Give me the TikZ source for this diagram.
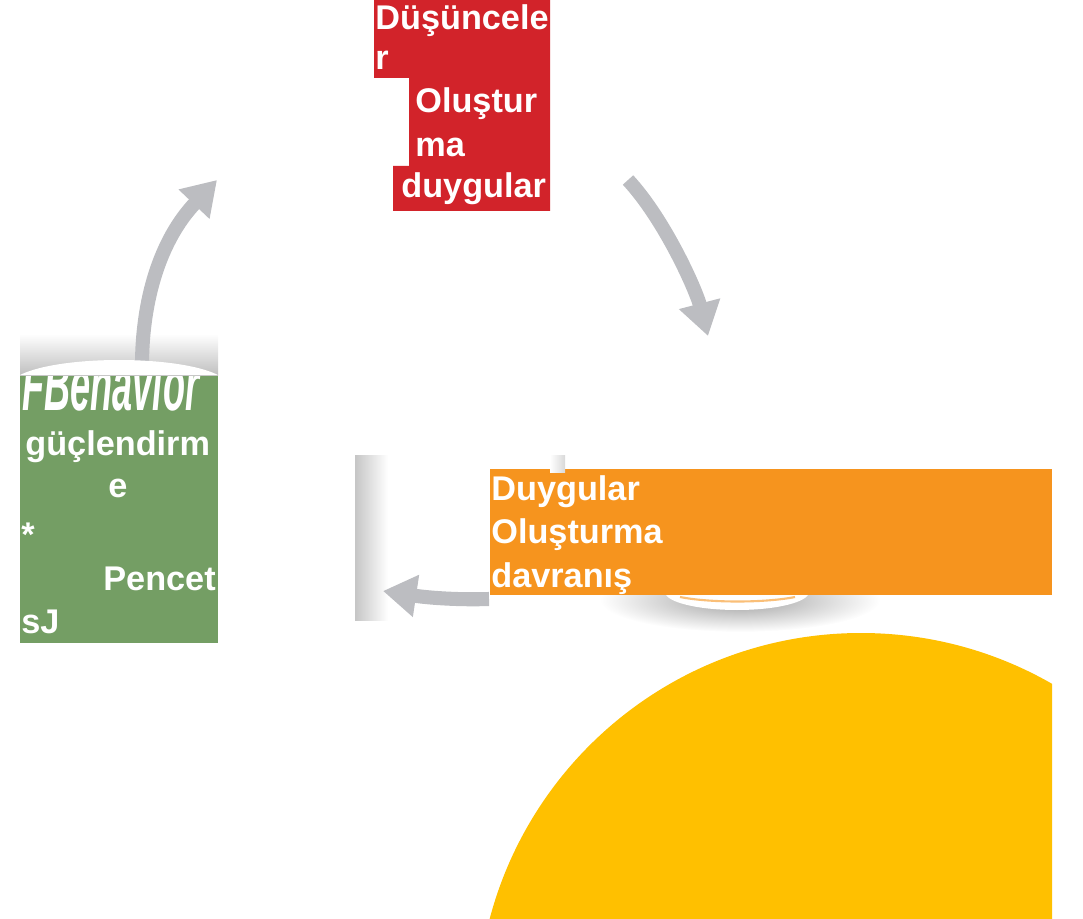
\documentclass[tikz,border=0pt]{standalone}
\usepackage{fontspec}
\setmainfont{Liberation Sans}
\usepackage{graphicx}
\usetikzlibrary{arrows.meta}

\definecolor{thoughtred}{RGB}{210,35,42}
\definecolor{feelorange}{RGB}{246,148,30}
\definecolor{actgreen}{RGB}{116,158,100}
\definecolor{sunyellow}{RGB}{255,192,0}
\definecolor{arrowgray}{RGB}{188,189,193}

\begin{document}
\begin{tikzpicture}[x=0.02cm, y=-0.02cm,
        label/.style={anchor=base west, inner sep=0pt, text=white, font=\bfseries\fontsize{19.5}{23}\selectfont},
        cyclearrow/.style={draw=arrowgray, line width=8pt, -{Triangle[length=19pt, width=23pt]}}
    ]
    \useasboundingbox (0,0) rectangle (1083,919);

    % big yellow disc, cut at the page edge
    \begin{scope}
        \clip (0,0) rectangle (1052,919);
        \fill[sunyellow] (861,1017) circle (384);
    \end{scope}

    % thoughts
    \fill[thoughtred] (374,0) -- (550,0) -- (550,211) -- (393,211) -- (393,166) -- (409,166) -- (409,78) -- (374,78) -- cycle;
    \node (thoughtsA) at (375,30) [label] {Düşüncele};
    \node (thoughtsB) at (375,70) [label] {r};
    \node (thoughtsC) at (415,113) [label] {Oluştur};
    \node (thoughtsD) at (415,157) [label] {ma};
    \node (thoughtsE) at (401,197) [label] {duygular};

    % shadow under the feelings disc
    \shade[inner color=gray!75, outer color=white] (740,600) ellipse (140 and 32);
    \fill[white] (737,592) ellipse (72 and 18);
    \draw[feelorange!60, line width=1.2pt] (680,597) .. controls (710,603) and (765,603) .. (795,597);

    % feelings
    \fill[feelorange] (490,469) rectangle (1052,595);
    \node (feelA) at (491,500) [label] {Duygular};
    \node (feelB) at (491,543) [label] {Oluşturma};
    \node (feelC) at (491,587) [label] {davranış};

    % inner panel edge
    \shade[left color=gray!45, right color=white] (355,455) rectangle (388,620);
    \shade[left color=white, right color=gray!30] (550,455) rectangle (565,472);

    % behavior
    \fill[actgreen] (20,375) rectangle (218,643);
    \begin{scope}
        \clip (20,375) rectangle (218,643);
        \node (actTitle) at (22,410) [anchor=base west, inner sep=0pt, text=white, font=\bfseries\itshape\fontsize{42}{42}\selectfont] {\scalebox{0.49}[1]{FBenavior}};
    \end{scope}
    \node (actA) at (25,455) [label] {güçlendirm};
    \node (actB) at (108,497) [label] {e};
    \node (actC) at (21,546) [label] {*};
    \node (actD) at (103,590) [label] {Pencet};
    \node (actE) at (21,633) [label] {sJ};
    \shade[top color=white, bottom color=gray!50] (20,334) rectangle (218,375);

    % cycle arrows
    \coordinate (upFrom) at (142,366);
    \coordinate (upTo) at (217,180);
    \coordinate (downFrom) at (628,180);
    \coordinate (downTo) at (708,336);
    \coordinate (backFrom) at (489,599);
    \coordinate (backTo) at (383,591);

    \draw[cyclearrow] (upFrom) .. controls (142,300) and (160,240) .. (upTo);
    \draw[cyclearrow] (downFrom) .. controls (665,220) and (696,290) .. (downTo);
    \draw[cyclearrow] (backFrom) .. controls (460,600) and (430,598) .. (backTo);

    \fill[white] (20,375) .. controls (60,355) and (178,355) .. (218,375) -- cycle;
\end{tikzpicture}
\end{document}
